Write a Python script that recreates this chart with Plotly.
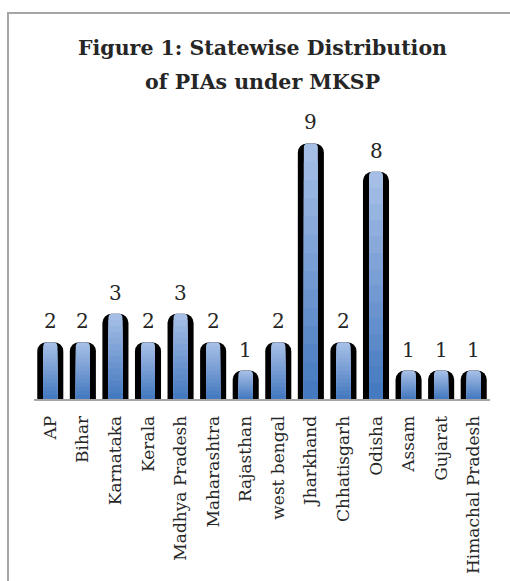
import plotly.graph_objects as go

states = ["AP", "Bihar", "Karnataka", "Kerala", "Madhya Pradesh", "Maharashtra",
          "Rajasthan", "west bengal", "Jharkhand", "Chhatisgarh", "Odisha",
          "Assam", "Gujarat", "Himachal Pradesh"]
pias = [2, 2, 3, 2, 3, 2, 1, 2, 9, 2, 8, 1, 1, 1]
title_lines = ["Figure 1: Statewise Distribution", "of PIAs under MKSP"]

W, H = 510, 581
ML, MR, MT, MB = 34, 20, 115, 182
PW, PH = W - ML - MR, H - MT - MB

SERIF = "DejaVu Serif"
TXT = "#262626"

fig = go.Figure()

# dark outer body of each bar
fig.add_trace(go.Bar(
    x=states, y=pias, width=0.8,
    marker=dict(color="#000000", line=dict(width=0), cornerradius=9),
    hoverinfo="skip", showlegend=False,
))

# inner blue face with a stepped vertical gradient (light top -> dark bottom)
top_rgb = (165, 190, 230)
bot_rgb = (70, 122, 192)
N = 14
for k in range(N):
    f = (N - k) / N
    t = k / (N - 1)
    c = tuple(round(top_rgb[i] + (bot_rgb[i] - top_rgb[i]) * t) for i in range(3))
    fig.add_trace(go.Bar(
        x=states, y=[v * f for v in pias], width=0.43,
        marker=dict(color="rgb(%d,%d,%d)" % c, line=dict(width=0),
                    cornerradius=4 if k == 0 else 0),
        hoverinfo="skip", showlegend=False,
    ))

annotations = []
# value labels
for s, v in zip(states, pias):
    annotations.append(dict(
        x=s, y=v, xref="x", yref="y", text=str(v), showarrow=False,
        yanchor="bottom", yshift=7,
        font=dict(family=SERIF, size=20, color=TXT),
    ))
# title
for line, ypx in zip(title_lines, [48, 82]):
    annotations.append(dict(
        text="<b>%s</b>" % line, showarrow=False,
        xref="paper", x=0.5, xanchor="center",
        yref="paper", y=(H - MB - ypx) / PH, yanchor="middle",
        font=dict(family=SERIF, size=20.5, color=TXT),
    ))

fig.update_layout(
    width=W, height=H,
    margin=dict(l=ML, r=MR, t=MT, b=MB, autoexpand=False),
    paper_bgcolor="white", plot_bgcolor="white",
    barmode="overlay",
    annotations=annotations,
    xaxis=dict(
        showline=True, linecolor="#a6a6a6", linewidth=2, automargin=False,
        tickangle=-90, ticks="", showgrid=False, ticklabelstandoff=8,
        tickfont=dict(family=SERIF, size=17, color=TXT),
    ),
    yaxis=dict(range=[0, 10], visible=False, showgrid=False, automargin=False),
    shapes=[dict(
        type="rect", xref="paper", yref="paper",
        x0=(8 - ML) / PW, x1=(W + 20 - ML) / PW,
        y0=-(H + 20 - MT - PH) / PH, y1=(H - MB - 13) / PH,
        line=dict(color="#a6a6a6", width=2), fillcolor="rgba(0,0,0,0)",
    )],
)

fig.write_html(
    "out.html",
    config={"displayModeBar": False},
    post_script="document.body.style.margin='0';document.body.style.overflow='hidden';",
)
